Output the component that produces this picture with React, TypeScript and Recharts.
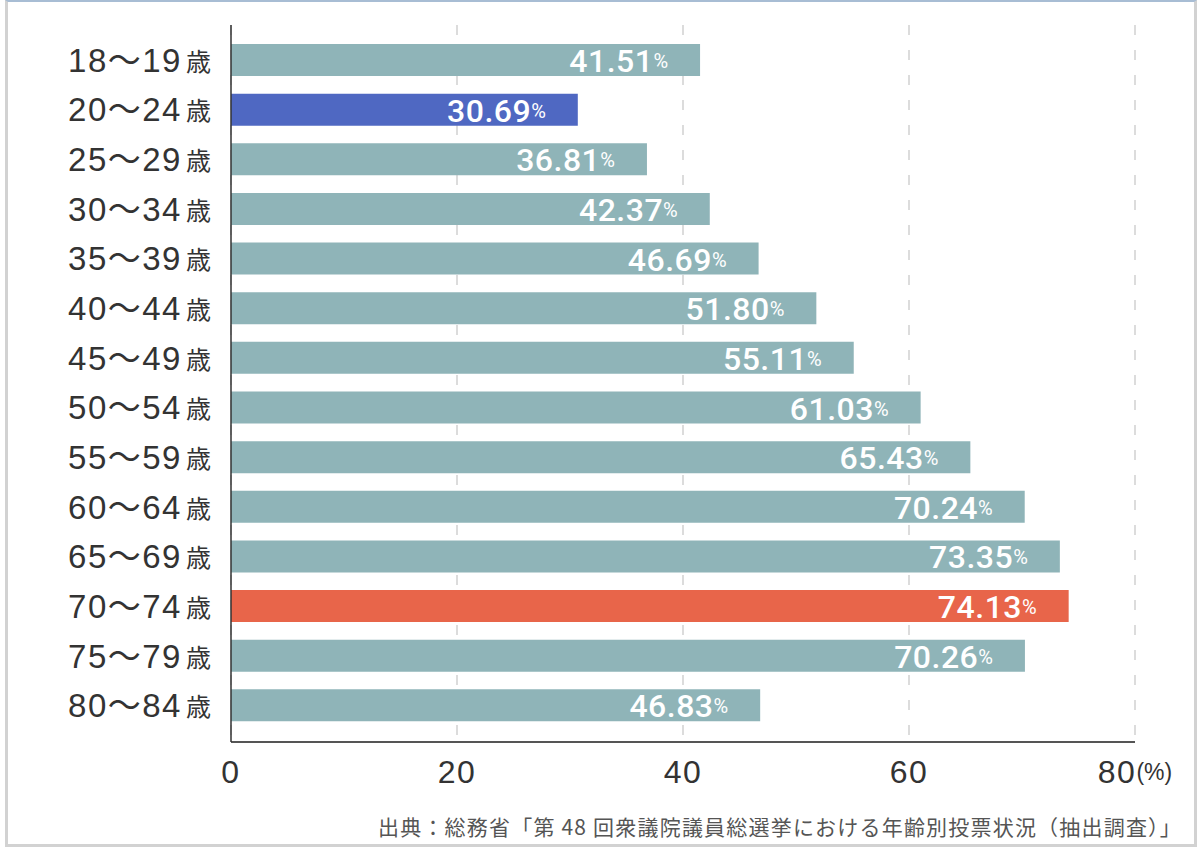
import React from 'react';
import { BarChart, Bar, XAxis, YAxis, CartesianGrid, Cell, LabelList } from 'recharts';

const ages = ['18〜19', '20〜24', '25〜29', '30〜34', '35〜39', '40〜44', '45〜49', '50〜54', '55〜59', '60〜64', '65〜69', '70〜74', '75〜79', '80〜84'];
const rates = [41.51, 30.69, 36.81, 42.37, 46.69, 51.8, 55.11, 61.03, 65.43, 70.24, 73.35, 74.13, 70.26, 46.83];
const xTicks = [0, 20, 40, 60, 80];

const BASE = '#8fb4b8';
const LOWEST = '#4f68c2';
const HIGHEST = '#e8654a';

const data = ages.map((age, i) => ({ age, rate: rates[i] }));
const maxRate = Math.max(...rates);
const minRate = Math.min(...rates);

const FONT = '"Noto Sans CJK JP", "Noto Sans", sans-serif';
const NUM_FONT = '"Liberation Sans", "Noto Sans CJK JP", sans-serif';

const AgeTick = (props: any) => {
  const { x, y, payload } = props;
  return (
    <text x={x - 12} y={y} textAnchor="end" dominantBaseline="central" fill="#333" fontFamily={NUM_FONT}>
      <tspan fontSize={33} letterSpacing={1.5}>{payload.value}</tspan>
      <tspan fontSize={25} dx={4} fontFamily={FONT}>歳</tspan>
    </text>
  );
};

const ValueTick = (props: any) => {
  const { x, y, payload } = props;
  const last = payload.value === 80;
  return (
    <text x={x} y={y + 22} textAnchor="middle" dominantBaseline="central" fill="#333" fontFamily={NUM_FONT}>
      <tspan fontSize={32} letterSpacing={1.5}>{payload.value}</tspan>
      {last && <tspan fontSize={23}>(%)</tspan>}
    </text>
  );
};

const RateLabel = (props: any) => {
  const { x, y, width, height, value } = props;
  return (
    <text x={x + width - 32} y={y + height / 2 + 1} textAnchor="end" dominantBaseline="central" fill="#fff" fontFamily='Roboto, "Liberation Sans", sans-serif'>
      <tspan fontSize={32} fontWeight={500} letterSpacing={0.5}>{Number(value).toFixed(2)}</tspan>
      <tspan fontSize={20} fontWeight={400}>%</tspan>
    </text>
  );
};

export default function App() {
  return (
    <div style={{ position: 'absolute', left: 0, top: 0, width: 1200, height: 847, background: '#fff', fontFamily: FONT }}>
      <div
        style={{
          position: 'absolute',
          left: 5,
          top: 0,
          width: 1186,
          height: 842,
          borderLeft: '3px solid #d2d2d2',
          borderRight: '3px solid #d2d2d2',
          borderBottom: '3px solid #d2d2d2',
          borderTop: '2px solid #a8bdd4',
        }}
      />
      <div style={{ position: 'absolute', left: 0, top: 0 }}>
        <BarChart
          width={1200}
          height={847}
          data={data}
          layout="vertical"
          margin={{ top: 25, right: 65, bottom: 45, left: 0 }}
          barSize={32}
        >
          <CartesianGrid horizontal={false} stroke="#dcdcdc" strokeWidth={2} strokeDasharray="10 15" />
          <XAxis
            type="number"
            domain={[0, 80]}
            ticks={xTicks}
            tickLine={false}
            axisLine={{ stroke: '#555', strokeWidth: 2 }}
            tick={<ValueTick />}
            height={60}
            interval={0}
          />
          <YAxis
            type="category"
            dataKey="age"
            width={231}
            tickLine={false}
            axisLine={{ stroke: '#333', strokeWidth: 1.5 }}
            tick={<AgeTick />}
            interval={0}
            padding={{ top: 10, bottom: 12 }}
          />
          <Bar dataKey="rate" isAnimationActive={false}>
            {data.map((d, i) => (
              <Cell key={i} fill={d.rate === maxRate ? HIGHEST : d.rate === minRate ? LOWEST : BASE} />
            ))}
            <LabelList dataKey="rate" content={<RateLabel />} />
          </Bar>
        </BarChart>
      </div>
      <div
        style={{
          position: 'absolute',
          right: 18,
          top: 814,
          fontSize: 21,
          letterSpacing: 1.2,
          color: '#555',
          whiteSpace: 'nowrap',
          lineHeight: '24px',
        }}
      >
        出典：総務省「第 48 回衆議院議員総選挙における年齢別投票状況（抽出調査）」
      </div>
    </div>
  );
}
